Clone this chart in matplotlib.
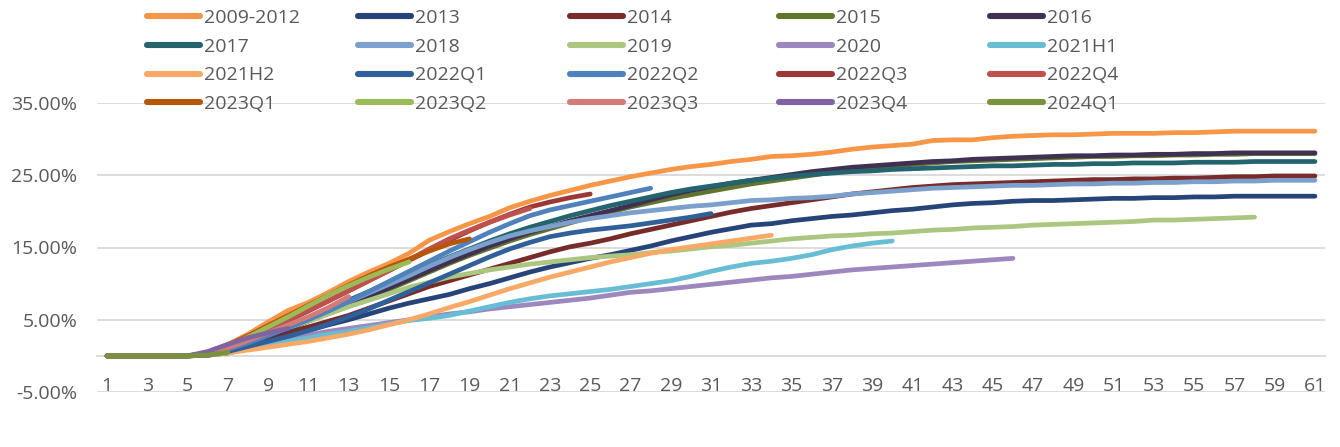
import matplotlib
matplotlib.use("Agg")
import matplotlib.pyplot as plt
from matplotlib.ticker import FuncFormatter

# ---------------- data (cumulative %, x = month index 1..61) ----------------
labels = ["2009-2012", "2013", "2014", "2015", "2016",
          "2017", "2018", "2019", "2020", "2021H1",
          "2021H2", "2022Q1", "2022Q2", "2022Q3", "2022Q4",
          "2023Q1", "2023Q2", "2023Q3", "2023Q4", "2024Q1"]

colors = ["#F79646", "#264478", "#772C2A", "#5F7530", "#403152",
          "#23646E", "#7BA0CD", "#ABC77F", "#9C87BF", "#67BDD3",
          "#F9A966", "#30609A", "#4F81BD", "#9B3836", "#C0504D",
          "#B65708", "#9BBB59", "#D27B79", "#8064A2", "#77933C"]

s_2009_2012 = [0, 0, 0, 0, 0, 0.5, 1.6, 3.0, 4.7, 6.3,
               7.4, 8.8, 10.3, 11.6, 12.8, 14.2, 16.0, 17.2, 18.3, 19.3,
               20.5, 21.4, 22.2, 22.9, 23.6, 24.2, 24.8, 25.3, 25.8, 26.2,
               26.5, 26.9, 27.2, 27.6, 27.7, 27.9, 28.2, 28.6, 28.9, 29.1,
               29.3, 29.8, 29.9, 29.9, 30.2, 30.4, 30.5, 30.6, 30.6, 30.7,
               30.8, 30.8, 30.8, 30.9, 30.9, 31.0, 31.1, 31.1, 31.1, 31.1, 31.1]
s_2013 = [0, 0, 0, 0, 0, 0.1, 0.4, 1.0, 1.8, 2.6,
          3.5, 4.3, 5.0, 5.8, 6.6, 7.3, 7.9, 8.5, 9.3, 10.0,
          10.8, 11.6, 12.3, 12.9, 13.5, 14.0, 14.6, 15.2, 15.9, 16.5,
          17.1, 17.6, 18.1, 18.3, 18.7, 19.0, 19.3, 19.5, 19.8, 20.1,
          20.3, 20.6, 20.9, 21.1, 21.2, 21.4, 21.5, 21.5, 21.6, 21.7,
          21.8, 21.8, 21.9, 21.9, 22.0, 22.0, 22.1, 22.1, 22.1, 22.1, 22.1]
s_2014 = [0, 0, 0, 0, 0, 0.2, 0.8, 1.6, 2.4, 3.2,
          4.0, 4.8, 5.6, 6.6, 7.6, 8.6, 9.6, 10.4, 11.2, 12.0,
          12.8, 13.6, 14.4, 15.1, 15.6, 16.2, 16.9, 17.5, 18.1, 18.7,
          19.3, 19.9, 20.4, 20.8, 21.2, 21.6, 22.0, 22.4, 22.7, 23.0,
          23.3, 23.5, 23.7, 23.8, 23.9, 24.0, 24.1, 24.2, 24.3, 24.4,
          24.4, 24.5, 24.5, 24.6, 24.6, 24.7, 24.8, 24.8, 24.9, 24.9, 24.9]
s_2015 = [0, 0, 0, 0, 0, 0.3, 1.0, 1.9, 2.9, 3.9,
          4.9, 5.9, 7.0, 8.1, 9.2, 10.4, 11.6, 12.8, 13.9, 14.9,
          15.9, 16.8, 17.6, 18.4, 19.2, 19.9, 20.6, 21.2, 21.8, 22.3,
          22.8, 23.3, 23.8, 24.2, 24.6, 25.0, 25.4, 25.7, 26.0, 26.3,
          26.5, 26.7, 26.9, 27.0, 27.1, 27.2, 27.3, 27.4, 27.5, 27.6,
          27.6, 27.7, 27.7, 27.8, 27.8, 27.9, 27.9, 28.0, 28.0, 28.0, 28.0]
s_2016 = [0, 0, 0, 0, 0, 0.2, 0.8, 1.7, 2.7, 3.7,
          4.8, 5.9, 7.0, 8.2, 9.4, 10.6, 11.8, 13.0, 14.1, 15.2,
          16.2, 17.1, 17.9, 18.7, 19.4, 20.1, 20.8, 21.6, 22.3, 22.9,
          23.4, 23.9, 24.3, 24.7, 25.1, 25.5, 25.8, 26.1, 26.3, 26.5,
          26.7, 26.9, 27.0, 27.2, 27.3, 27.4, 27.5, 27.6, 27.7, 27.7,
          27.8, 27.8, 27.9, 27.9, 28.0, 28.0, 28.1, 28.1, 28.1, 28.1, 28.1]
s_2017 = [0, 0, 0, 0, 0, 0.3, 1.0, 2.0, 3.1, 4.2,
          5.3, 6.5, 7.7, 8.9, 10.1, 11.3, 12.5, 13.7, 14.8, 15.9,
          16.9, 17.8, 18.6, 19.4, 20.1, 20.8, 21.4, 22.0, 22.6, 23.1,
          23.5, 23.9, 24.3, 24.6, 24.9, 25.1, 25.3, 25.5, 25.6, 25.8,
          25.9, 26.0, 26.1, 26.2, 26.3, 26.3, 26.4, 26.5, 26.5, 26.6,
          26.6, 26.7, 26.7, 26.7, 26.8, 26.8, 26.8, 26.9, 26.9, 26.9, 26.9]
s_2018 = [0, 0, 0, 0, 0, 0.3, 1.0, 1.9, 2.9, 4.0,
          5.1, 6.3, 7.5, 8.7, 9.9, 11.1, 12.4, 13.6, 14.7, 15.7,
          16.6, 17.3, 17.9, 18.5, 19.0, 19.4, 19.8, 20.1, 20.4, 20.7,
          20.9, 21.2, 21.5, 21.6, 21.8, 21.9, 22.1, 22.4, 22.6, 22.8,
          23.0, 23.2, 23.3, 23.4, 23.5, 23.6, 23.6, 23.7, 23.8, 23.8,
          23.9, 23.9, 24.0, 24.0, 24.1, 24.1, 24.2, 24.2, 24.3, 24.3, 24.3]
s_2019 = [0, 0, 0, 0, 0, 0.2, 0.9, 1.9, 2.9, 3.9,
          4.8, 5.8, 6.8, 7.7, 8.6, 9.5, 10.2, 10.9, 11.4, 11.9,
          12.3, 12.7, 13.0, 13.3, 13.6, 13.8, 14.0, 14.3, 14.5, 14.8,
          15.1, 15.3, 15.6, 15.9, 16.2, 16.4, 16.6, 16.7, 16.9, 17.0,
          17.2, 17.4, 17.5, 17.7, 17.8, 17.9, 18.1, 18.2, 18.3, 18.4,
          18.5, 18.6, 18.8, 18.8, 18.9, 19.0, 19.1, 19.2]
s_2020 = [0, 0, 0, 0, 0, 0.1, 0.6, 1.2, 1.8, 2.4,
          2.9, 3.4, 3.8, 4.2, 4.6, 5.0, 5.4, 5.8, 6.1, 6.5,
          6.8, 7.1, 7.4, 7.7, 8.0, 8.4, 8.8, 9.0, 9.3, 9.6,
          9.9, 10.2, 10.5, 10.8, 11.0, 11.3, 11.6, 11.9, 12.1, 12.3,
          12.5, 12.7, 12.9, 13.1, 13.3, 13.5]
s_2021H1 = [0, 0, 0, 0, 0, 0.1, 0.5, 1.0, 1.5, 2.0,
            2.5, 3.0, 3.4, 3.9, 4.4, 4.9, 5.2, 5.6, 6.2, 6.8,
            7.4, 7.9, 8.3, 8.6, 8.9, 9.2, 9.6, 10.0, 10.4, 11.0,
            11.7, 12.3, 12.8, 13.1, 13.5, 14.0, 14.7, 15.2, 15.6, 15.9]
s_2021H2 = [0, 0, 0, 0, 0, 0.1, 0.4, 0.8, 1.2, 1.6,
            2.0, 2.5, 3.0, 3.6, 4.3, 5.0, 5.8, 6.7, 7.5, 8.4,
            9.3, 10.1, 10.9, 11.6, 12.3, 13.0, 13.6, 14.2, 14.7, 15.1,
            15.5, 15.9, 16.3, 16.7]
s_2022Q1 = [0, 0, 0, 0, 0, 0.1, 0.6, 1.3, 2.0, 2.7,
            3.5, 4.4, 5.4, 6.5, 7.7, 8.9, 10.1, 11.3, 12.5, 13.7,
            14.8, 15.7, 16.5, 17.0, 17.4, 17.7, 18.0, 18.4, 18.8, 19.2,
            19.7]
s_2022Q2 = [0, 0, 0, 0, 0, 0.2, 0.9, 1.8, 2.8, 3.9,
            5.0, 6.2, 7.5, 8.9, 10.3, 11.7, 13.1, 14.5, 15.8, 17.1,
            18.3, 19.4, 20.2, 20.8, 21.4, 22.0, 22.6, 23.2]
s_2022Q3 = [0, 0, 0, 0, 0, 0.3, 1.1, 2.3, 3.6, 4.9,
            6.2, 7.6, 9.0, 10.4, 11.8, 13.2, 14.6, 16.0, 17.3, 18.5,
            19.6, 20.6, 21.3, 21.9, 22.4]
s_2022Q4 = [0, 0, 0, 0, 0, 0.3, 1.2, 2.4, 3.7, 5.0,
            6.3, 7.6, 9.0, 10.4, 11.8, 13.3, 14.8, 16.2, 17.4, 18.5,
            19.5, 20.4]
s_2023Q1 = [0, 0, 0, 0, 0, 0.4, 1.5, 2.8, 4.2, 5.6,
            7.0, 8.4, 9.8, 11.1, 12.3, 13.4, 14.5, 15.5, 16.2]
s_2023Q2 = [0, 0, 0, 0, 0, 0.3, 1.3, 2.6, 4.0, 5.4,
            6.9, 8.4, 9.7, 10.9, 12.0, 13.0]
s_2023Q3 = [0, 0, 0, 0, 0, 0.3, 1.1, 2.1, 3.2, 4.3, 5.4, 6.7, 8.2]
s_2023Q4 = [0, 0, 0, 0, 0, 0.6, 1.6, 2.5, 3.2, 3.8]
s_2024Q1 = [0, 0, 0, 0, 0, 0.1, 0.5]

series = [s_2009_2012, s_2013, s_2014, s_2015, s_2016,
          s_2017, s_2018, s_2019, s_2020, s_2021H1,
          s_2021H2, s_2022Q1, s_2022Q2, s_2022Q3, s_2022Q4,
          s_2023Q1, s_2023Q2, s_2023Q3, s_2023Q4, s_2024Q1]

y_ticks = [-5, 5, 15, 25, 35]
x_ticks = list(range(1, 62, 2))

# ---------------- drawing ----------------
FONT = "Open Sans"
TXT = "#595959"
GRID = "#D9D9D9"

W, H = 1340, 447
fig = plt.figure(figsize=(W / 100, H / 100), dpi=100)
ax = fig.add_axes([97 / W, 1 - 392 / H, (1325 - 97) / W, (392 - 103) / H])

lines = []
for lab, col, vals in zip(labels, colors, series):
    xs = list(range(1, len(vals) + 1))
    ln, = ax.plot(xs, vals, color=col, lw=3.4, label=lab,
                  solid_capstyle="round", solid_joinstyle="round")
    lines.append(ln)

ax.set_xlim(0.5, 61.5)
ax.set_ylim(-5, 35)
ax.set_yticks(y_ticks)
ax.yaxis.set_major_formatter(FuncFormatter(lambda v, p: f"{v:.2f}%"))
ax.set_xticks(x_ticks)
ax.set_xticklabels([str(t) for t in x_ticks])
ax.grid(axis="y", color=GRID, lw=1.3)
ax.set_axisbelow(True)
for s in ["top", "right", "left"]:
    ax.spines[s].set_visible(False)
ax.spines["bottom"].set_position(("data", 0))
ax.spines["bottom"].set_color(GRID)
ax.spines["bottom"].set_linewidth(1.3)
ax.spines["bottom"].set_zorder(0.5)
ax.tick_params(axis="both", length=0, colors=TXT, labelsize=14)
ax.tick_params(axis="x", pad=15)
ax.tick_params(axis="y", pad=14)
for t in ax.get_xticklabels() + ax.get_yticklabels():
    t.set_fontfamily(FONT)

# legend: 5 columns x 4 rows, row-major like the original
col_x = [147, 358, 570, 779, 990]
for j in range(5):
    hs = [lines[i * 5 + j] for i in range(4)]
    leg = fig.legend(handles=hs, labels=[h.get_label() for h in hs],
                     loc="upper left", bbox_to_anchor=(col_x[j] / W, 1 - 9 / H),
                     bbox_transform=fig.transFigure, frameon=False,
                     borderpad=0, borderaxespad=0, handlelength=2.75,
                     handletextpad=0.2, labelspacing=0.55,
                     prop={"family": FONT, "size": 14})
    for t in leg.get_texts():
        t.set_color(TXT)
    for l in leg.get_lines():
        l.set_linewidth(4.4)

fig.savefig("out.png", dpi=100)
